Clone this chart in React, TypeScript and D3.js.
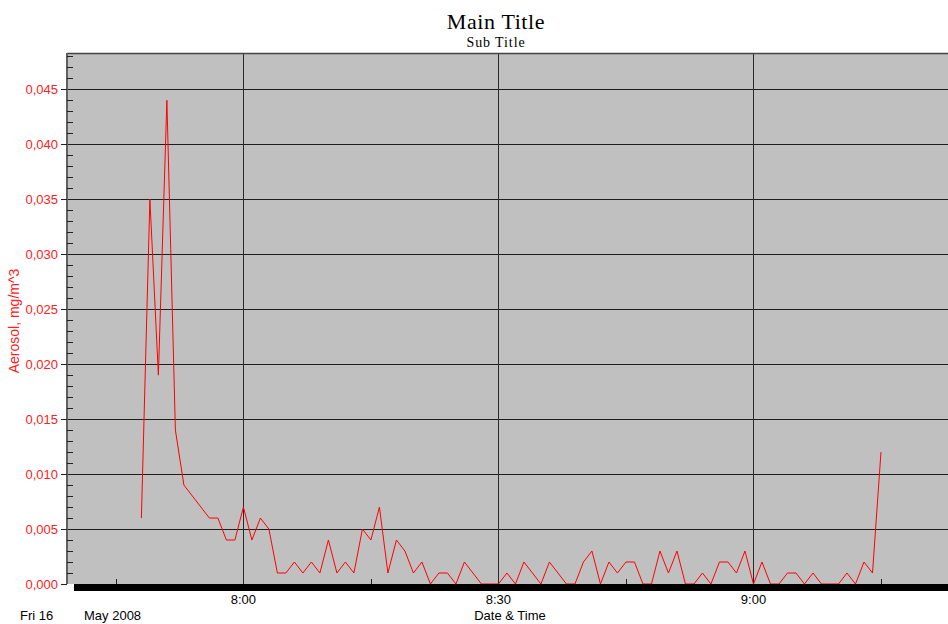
import React from "react";
import * as d3 from "d3";

const W = 948;
const H = 624;

// plot frame (left axis, top border, zero line)
const LEFT = 67;
const TOP = 53;
const BOTTOM = 584;
const RIGHT = 949;

const DAY = "2008-05-16";
const VIEW_START = "07:39:15";
const VIEW_END = "09:23:00";
// readings are one minute apart, starting here
const START_TIME = "07:48:00";

// Aerosol, mg/m^3
const AEROSOL = [
  0.006, 0.035, 0.019, 0.044, 0.014, 0.009, 0.008, 0.007, 0.006, 0.006,
  0.004, 0.004, 0.007, 0.004, 0.006, 0.005, 0.001, 0.001, 0.002, 0.001,
  0.002, 0.001, 0.004, 0.001, 0.002, 0.001, 0.005, 0.004, 0.007, 0.001,
  0.004, 0.003, 0.001, 0.002, 0.0, 0.001, 0.001, 0.0, 0.002, 0.001,
  0.0, 0.0, 0.0, 0.001, 0.0, 0.002, 0.001, 0.0, 0.002, 0.001,
  0.0, 0.0, 0.002, 0.003, 0.0, 0.002, 0.001, 0.002, 0.002, 0.0,
  0.0, 0.003, 0.001, 0.003, 0.0, 0.0, 0.001, 0.0, 0.002, 0.002,
  0.001, 0.003, 0.0, 0.002, 0.0, 0.0, 0.001, 0.001, 0.0, 0.001,
  0.0, 0.0, 0.0, 0.001, 0.0, 0.002, 0.001, 0.012,
];

const X_MAJOR = ["08:00:00", "08:30:00", "09:00:00"];
const X_MINOR = ["07:45:00", "08:15:00", "08:45:00", "09:15:00"];
const Y_MAJOR = [0, 0.005, 0.01, 0.015, 0.02, 0.025, 0.03, 0.035, 0.04, 0.045];
const Y_MAX = 0.0483;

const parse = d3.timeParse("%Y-%m-%d %H:%M:%S");
const at = (t: string) => parse(DAY + " " + t) as Date;

const SANS = "'Liberation Sans', Arial, sans-serif";
const SERIF = "'Liberation Serif', 'Times New Roman', serif";

export default function App() {
  const x = d3
    .scaleTime()
    .domain([at(VIEW_START), at(VIEW_END)])
    .range([LEFT, RIGHT]);
  const y = d3.scaleLinear().domain([0, Y_MAX]).range([BOTTOM, TOP]);

  const start = at(START_TIME);
  const points = AEROSOL.map((v, i) => ({ t: d3.timeMinute.offset(start, i), v }));

  const line = d3
    .line<{ t: Date; v: number }>()
    .x((d) => x(d.t))
    .y((d) => y(d.v));

  const yMinor = d3
    .range(1, 49)
    .filter((i) => i % 5 !== 0)
    .map((i) => i / 1000);

  const fmtX = d3.timeFormat("%-H:%M");
  const fmtY = (v: number) => d3.format(".3f")(v).replace(".", ",");
  const snap = (v: number) => Math.round(v) + 0.5;

  return (
    <svg
      width={W}
      height={H}
      style={{ position: "absolute", left: 0, top: 0, display: "block" }}
    >
      <defs>
        <clipPath id="plot-clip">
          <rect x={LEFT} y={TOP} width={RIGHT - LEFT} height={BOTTOM - TOP} />
        </clipPath>
      </defs>
      <rect x={0} y={0} width={W} height={H} fill="#fff" />

      {/* titles */}
      <text
        x={496}
        y={29}
        textAnchor="middle"
        fontFamily={SERIF}
        fontSize={22}
        letterSpacing={0.6}
        fill="#000"
      >
        Main Title
      </text>
      <text
        x={496}
        y={47}
        textAnchor="middle"
        fontFamily={SERIF}
        fontSize={14}
        letterSpacing={0.9}
        fill="#000"
      >
        Sub Title
      </text>

      {/* plot background */}
      <rect x={LEFT} y={TOP} width={RIGHT - LEFT} height={BOTTOM - TOP} fill="#c0c0c0" />

      {/* horizontal grid */}
      {Y_MAJOR.filter((v) => v > 0).map((v) => (
        <line
          key={"hg" + v}
          x1={LEFT}
          x2={RIGHT}
          y1={snap(y(v))}
          y2={snap(y(v))}
          stroke="#1e1e1e"
          strokeWidth={1}
        />
      ))}

      {/* vertical grid */}
      {X_MAJOR.map((t) => (
        <line
          key={"vg" + t}
          x1={snap(x(at(t)))}
          x2={snap(x(at(t)))}
          y1={TOP}
          y2={BOTTOM}
          stroke="#2a2a2a"
          strokeWidth={1}
        />
      ))}

      {/* data line */}
      <path
        d={line(points) || ""}
        fill="none"
        stroke="#ff0000"
        strokeWidth={1}
        clipPath="url(#plot-clip)"
      />

      {/* top border */}
      <line x1={LEFT} x2={RIGHT} y1={TOP + 0.5} y2={TOP + 0.5} stroke="#444" strokeWidth={1.5} />

      {/* y axis */}
      <line x1={LEFT} x2={LEFT} y1={TOP} y2={BOTTOM} stroke="#606060" strokeWidth={2} />
      {yMinor.map((v) => (
        <line
          key={"ym" + v}
          x1={LEFT}
          x2={LEFT + 6}
          y1={snap(y(v))}
          y2={snap(y(v))}
          stroke="#222"
          strokeWidth={1}
        />
      ))}
      {Y_MAJOR.map((v) => (
        <g key={"yt" + v}>
          <line
            x1={LEFT - 6}
            x2={LEFT}
            y1={snap(y(v))}
            y2={snap(y(v))}
            stroke="#222"
            strokeWidth={1}
          />
          <text
            x={LEFT - 9}
            y={y(v) + 4.5}
            textAnchor="end"
            fontFamily={SANS}
            fontSize={13}
            fill="#ff2020"
          >
            {fmtY(v)}
          </text>
        </g>
      ))}
      <text
        transform={`translate(19,321) rotate(-90)`}
        textAnchor="middle"
        fontFamily={SANS}
        fontSize={14}
        fill="#ff2020"
      >
        Aerosol, mg/m^3
      </text>

      {/* x axis */}
      <rect x={74} y={BOTTOM} width={RIGHT - 74} height={7} fill="#000" />
      {X_MINOR.map((t) => (
        <line
          key={"xm" + t}
          x1={snap(x(at(t)))}
          x2={snap(x(at(t)))}
          y1={BOTTOM - 5}
          y2={BOTTOM}
          stroke="#222"
          strokeWidth={1}
        />
      ))}
      {X_MAJOR.map((t) => (
        <text
          key={"xl" + t}
          x={x(at(t))}
          y={604}
          textAnchor="middle"
          fontFamily={SANS}
          fontSize={13}
          fill="#000"
        >
          {fmtX(at(t))}
        </text>
      ))}
      <text x={20} y={620} fontFamily={SANS} fontSize={13} fill="#000">
        {d3.timeFormat("%a %d")(start)}
      </text>
      <text x={84} y={620} fontFamily={SANS} fontSize={13} fill="#000">
        {d3.timeFormat("%b %Y")(start)}
      </text>
      <text x={510} y={620} textAnchor="middle" fontFamily={SANS} fontSize={13} fill="#000">
        Date &amp; Time
      </text>
    </svg>
  );
}
